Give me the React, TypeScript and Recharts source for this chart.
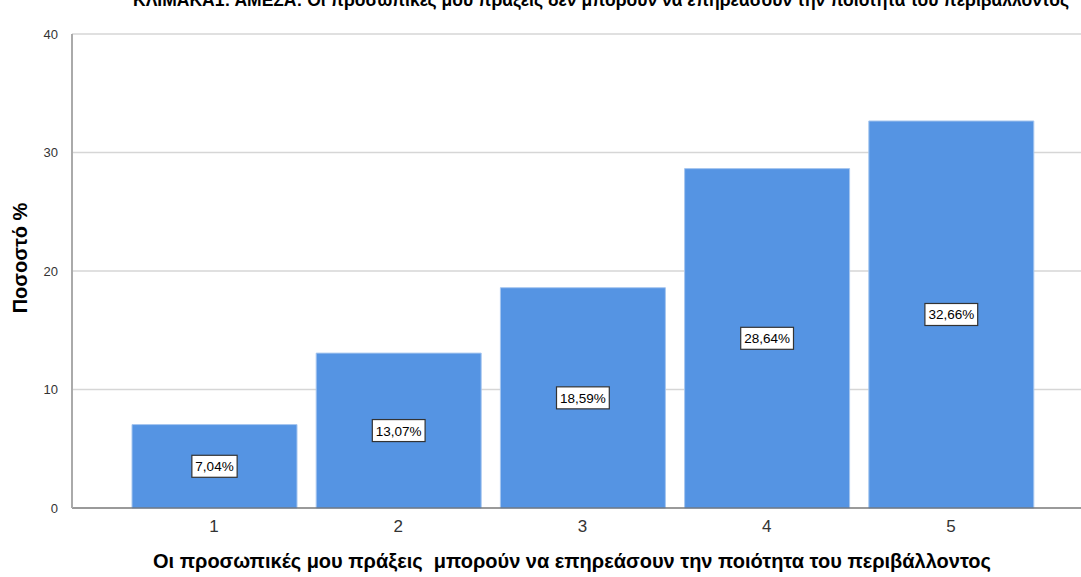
import React from 'react';
import { BarChart, Bar, XAxis, YAxis, CartesianGrid, LabelList } from 'recharts';

const categories = ['1', '2', '3', '4', '5'];
const percentages = [7.04, 13.07, 18.59, 28.64, 32.66];
const yTicks = [0, 10, 20, 30, 40];

const TITLE =
  'ΚΛΙΜΑΚΑ1: ΑΜΕΣΑ: Οι προσωπικές μου πράξεις δεν μπορούν να επηρεάσουν την ποιότητα του περιβάλλοντος';
const X_LABEL = 'Οι προσωπικές μου πράξεις  μπορούν να επηρεάσουν την ποιότητα του περιβάλλοντος';
const Y_LABEL = 'Ποσοστό %';

const FONT = '"Liberation Sans", Arial, sans-serif';

const data = categories.map((c, i) => ({ name: c, value: percentages[i] }));

// rough Arial widths in em
const charWidth = (ch: string) => (ch === ',' ? 0.278 : ch === '%' ? 0.889 : 0.556);

// white box with black border, like SPSS value labels
const BoxLabel = (props: any) => {
  const { x, y, width, height, value } = props;
  const text = `${value.toFixed(2).replace('.', ',')}%`;
  const fs = 13.5;
  const cx = x + width / 2;
  const cy = y + height / 2;
  const w = text.split('').reduce((s, ch) => s + charWidth(ch) * fs, 0) + 7;
  const h = 22;
  return (
    <g>
      <rect x={cx - w / 2} y={cy - h / 2} width={w} height={h} fill="#fff" stroke="#333" strokeWidth={1.2} />
      <text x={cx} y={cy + 5} textAnchor="middle" fontSize={fs} fontFamily={FONT} fill="#000">
        {text}
      </text>
    </g>
  );
};

export default function App() {
  return (
    <div style={{ position: 'absolute', left: 0, top: 0, width: 1081, height: 577, background: '#fff' }}>
      <BarChart
        width={1081}
        height={577}
        data={data}
        margin={{ top: 34, right: 0, bottom: 19, left: 0 }}
      >
        <CartesianGrid vertical={false} stroke="#d6d6d6" strokeWidth={1.5} />
        <XAxis
          dataKey="name"
          height={50}
          padding={{ left: 50, right: 38 }}
          tickLine={false}
          axisLine={{ stroke: '#555', strokeWidth: 1.2 }}
          tick={{ fontSize: 17, fill: '#333', fontFamily: FONT }}
          tickMargin={6}
        />
        <YAxis
          width={72}
          domain={[0, 40]}
          ticks={yTicks}
          tickLine={false}
          axisLine={{ stroke: '#aaa', strokeWidth: 2 }}
          tick={{ fontSize: 13, fill: '#333', fontFamily: FONT }}
          tickMargin={8}
        />
        <Bar dataKey="value" fill="#5594E3" stroke="#a6c6ef" strokeWidth={1} barSize={165} isAnimationActive={false}>
          <LabelList dataKey="value" content={<BoxLabel />} />
        </Bar>
      </BarChart>
      <svg
        width={1081}
        height={577}
        style={{ position: 'absolute', left: 0, top: 0, pointerEvents: 'none' }}
      >
        <text x={601} y={6} textAnchor="middle" fontSize={17.5} fontWeight="bold" fontFamily={FONT} fill="#000">
          {TITLE}
        </text>
        <text
          x={572}
          y={568}
          textAnchor="middle"
          fontSize={20}
          fontWeight="bold"
          fontFamily={FONT}
          fill="#000"
          style={{ whiteSpace: 'pre' }}
        >
          {X_LABEL}
        </text>
        <text
          x={27}
          y={258}
          textAnchor="middle"
          fontSize={20}
          fontWeight="bold"
          fontFamily={FONT}
          fill="#000"
          transform="rotate(-90 27 258)"
        >
          {Y_LABEL}
        </text>
      </svg>
    </div>
  );
}
